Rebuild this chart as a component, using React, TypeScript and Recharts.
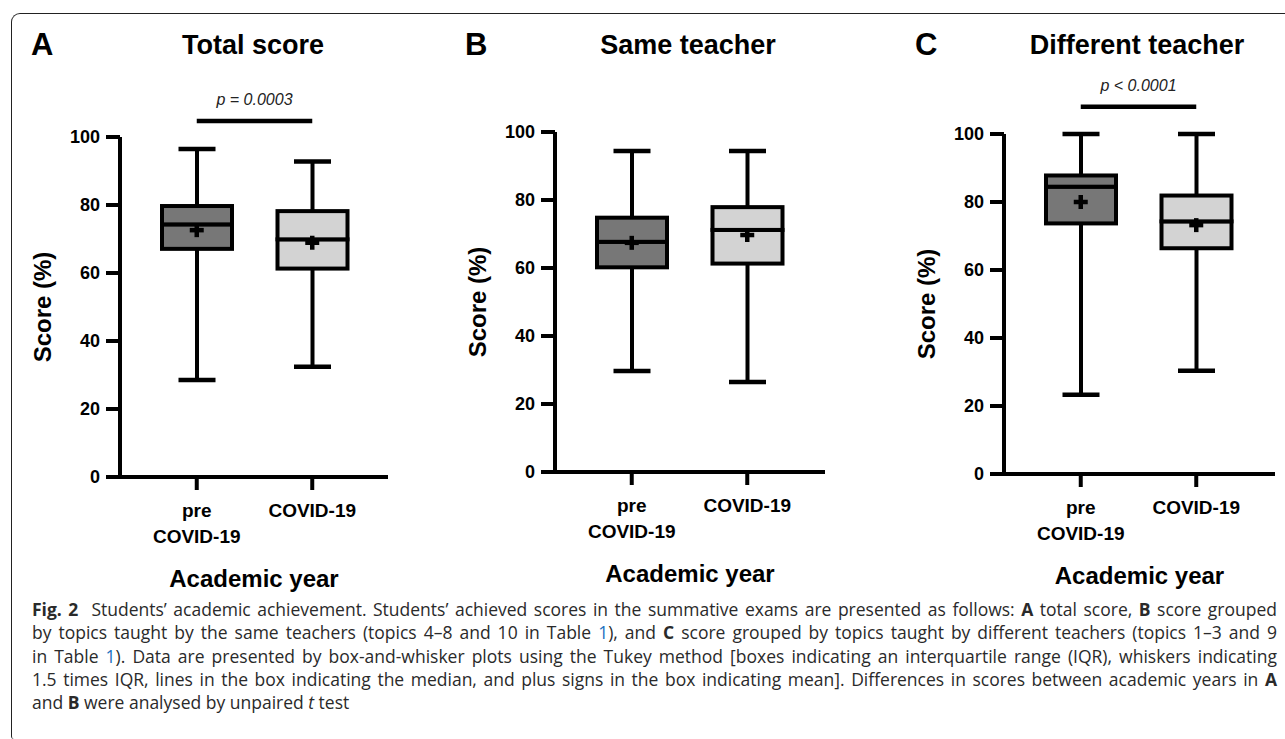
import React from "react";
import { ComposedChart, Bar, Scatter, XAxis, YAxis, ReferenceLine, Label } from "recharts";

const GROUPS = ["pre COVID-19", "COVID-19"];
const Y_TICKS = [0, 20, 40, 60, 80, 100];

// A: total score
const TOTAL_MIN = [28.5, 32.4];
const TOTAL_Q1 = [67.1, 61.3];
const TOTAL_MEDIAN = [74.3, 69.9];
const TOTAL_Q3 = [79.7, 78.2];
const TOTAL_MAX = [96.5, 92.8];
const TOTAL_MEAN = [72.6, 68.9];

// B: same teacher
const SAME_MIN = [29.7, 26.5];
const SAME_Q1 = [60.2, 61.3];
const SAME_MEDIAN = [67.7, 71.2];
const SAME_Q3 = [74.8, 77.9];
const SAME_MAX = [94.4, 94.4];
const SAME_MEAN = [67.4, 69.7];

// C: different teacher
const DIFF_MIN = [23.3, 30.4];
const DIFF_Q1 = [73.7, 66.4];
const DIFF_MEDIAN = [84.5, 74.3];
const DIFF_Q3 = [87.8, 81.9];
const DIFF_MAX = [100, 100];
const DIFF_MEAN = [80.0, 73.2];

const FILLS = ["#777777", "#d3d3d3"];
const FONT = '"Liberation Sans", Arial, Helvetica, sans-serif';

function toRows(min: number[], q1: number[], med: number[], q3: number[], max: number[], mean: number[]) {
  return GROUPS.map((name, i) => ({
    name,
    base: min[i],
    lowWhisker: q1[i] - min[i],
    lowBox: med[i] - q1[i],
    highBox: q3[i] - med[i],
    highWhisker: max[i] - q3[i],
    mean: mean[i],
  }));
}

const whisker = (side: "low" | "high") => (p: any) => {
  const cx = p.x + p.width / 2;
  const capY = side === "low" ? p.y + p.height : p.y;
  const half = p.width / 4 + 1;
  return (
    <g>
      <line x1={cx} x2={cx} y1={p.y} y2={p.y + p.height} stroke="#000" strokeWidth={4} />
      <line x1={cx - half} x2={cx + half} y1={capY} y2={capY} stroke="#000" strokeWidth={4.5} />
    </g>
  );
};

const box = (p: any) => (
  <rect x={p.x} y={p.y} width={p.width} height={p.height} fill={FILLS[p.index]} stroke="#000" strokeWidth={4} />
);

const plus = (p: any) => (
  <g>
    <line x1={p.cx - 7} x2={p.cx + 7} y1={p.cy} y2={p.cy} stroke="#000" strokeWidth={4.5} />
    <line x1={p.cx} x2={p.cx} y1={p.cy - 7} y2={p.cy + 7} stroke="#000" strokeWidth={4.5} />
  </g>
);

const XTick = (p: any) => {
  const parts = String(p.payload.value).split(" ");
  return (
    <text textAnchor="middle" fontFamily={FONT} fontSize={19} fontWeight={700} fill="#000">
      {parts.map((t, i) => (
        <tspan key={i} x={p.x} y={p.y + 25 + i * 26}>{t}</tspan>
      ))}
    </text>
  );
};

const xLabel = (p: any) => {
  const vb = p.viewBox;
  return (
    <text x={vb.x + vb.width / 2} y={vb.y + 110} textAnchor="middle" fontFamily={FONT} fontSize={24} fontWeight={700} fill="#000">
      Academic year
    </text>
  );
};

const yLabel = (p: any) => {
  const vb = p.viewBox;
  const x = vb.x + vb.width - 69;
  const y = vb.y + vb.height / 2;
  return (
    <text x={x} y={y} transform={`rotate(-90 ${x} ${y})`} textAnchor="middle" fontFamily={FONT} fontSize={24} fontWeight={700} fill="#000">
      Score (%)
    </text>
  );
};

type PanelProps = {
  left: number;
  plotTop: number;
  plotWidth: number;
  rows: ReturnType<typeof toRows>;
  pText?: string;
  pY?: number;
};

function Panel({ left, plotTop, plotWidth, rows, pText, pY }: PanelProps) {
  const H = 600;
  return (
    <div style={{ position: "absolute", left, top: 0 }}>
      <ComposedChart width={110 + plotWidth + 10} height={H} data={rows} margin={{ top: plotTop, right: 10, bottom: 0, left: 0 }}>
        <XAxis
          dataKey="name"
          type="category"
          height={H - plotTop - 340}
          padding={{ left: 19, right: plotWidth - 19 - 231 }}
          axisLine={{ stroke: "#000", strokeWidth: 4 }}
          tickLine={{ stroke: "#000", strokeWidth: 4 }}
          tickSize={13}
          tick={<XTick />}
          interval={0}
        >
          <Label content={xLabel} />
        </XAxis>
        <YAxis
          type="number"
          domain={[0, 100]}
          ticks={Y_TICKS}
          interval={0}
          width={110}
          tickSize={14}
          tickMargin={6}
          axisLine={{ stroke: "#000", strokeWidth: 4 }}
          tickLine={{ stroke: "#000", strokeWidth: 4 }}
          tick={{ fill: "#000", fontSize: 18, fontWeight: 700, fontFamily: FONT }}
        >
          <Label content={yLabel} />
        </YAxis>
        <Bar dataKey="base" stackId="b" fill="transparent" barSize={70} isAnimationActive={false} />
        <Bar dataKey="lowWhisker" stackId="b" barSize={70} shape={whisker("low")} isAnimationActive={false} />
        <Bar dataKey="lowBox" stackId="b" barSize={70} shape={box} isAnimationActive={false} />
        <Bar dataKey="highBox" stackId="b" barSize={70} shape={box} isAnimationActive={false} />
        <Bar dataKey="highWhisker" stackId="b" barSize={70} shape={whisker("high")} isAnimationActive={false} />
        <Scatter dataKey="mean" shape={plus} isAnimationActive={false} />
        {pText && pY !== undefined && (
          <ReferenceLine
            segment={[{ x: GROUPS[0], y: pY }, { x: GROUPS[1], y: pY }]}
            stroke="#000"
            strokeWidth={4.5}
            ifOverflow="visible"
            label={{ value: pText, position: "top", offset: 16, fill: "#222", fontSize: 16, fontStyle: "italic", fontFamily: FONT }}
          />
        )}
      </ComposedChart>
    </div>
  );
}

const TITLES = [
  { letter: "A", lx: 31, title: "Total score", tx: 253 },
  { letter: "B", lx: 465, title: "Same teacher", tx: 688 },
  { letter: "C", lx: 915, title: "Different teacher", tx: 1137 },
];

const capStyle: React.CSSProperties = {
  height: 23.3,
  lineHeight: "23.3px",
  textAlign: "justify",
  textAlignLast: "justify",
  whiteSpace: "normal",
};
const link: React.CSSProperties = { color: "#1a6fc0" };

export default function App() {
  return (
    <div style={{ position: "absolute", left: 0, top: 0, width: 1285, height: 739, overflow: "hidden", background: "#fff" }}>
      <div
        style={{
          position: "absolute", left: 11, top: 13, width: 1300, height: 725,
          borderLeft: "1px solid #222", borderTop: "1px solid #222",
          borderTopLeftRadius: 9, borderBottomLeftRadius: 3,
        }}
      />
      <Panel left={10} plotTop={137} plotWidth={268} rows={toRows(TOTAL_MIN, TOTAL_Q1, TOTAL_MEDIAN, TOTAL_Q3, TOTAL_MAX, TOTAL_MEAN)} pText="p = 0.0003" pY={104.7} />
      <Panel left={445} plotTop={132} plotWidth={270} rows={toRows(SAME_MIN, SAME_Q1, SAME_MEDIAN, SAME_Q3, SAME_MAX, SAME_MEAN)} />
      <Panel left={894} plotTop={134} plotWidth={271} rows={toRows(DIFF_MIN, DIFF_Q1, DIFF_MEDIAN, DIFF_Q3, DIFF_MAX, DIFF_MEAN)} pText="p < 0.0001" pY={108} />
      <svg width={1285} height={80} style={{ position: "absolute", left: 0, top: 0 }}>
        {TITLES.map((t) => (
          <g key={t.letter} fontFamily={FONT} fontWeight={700} fill="#000">
            <text x={t.lx} y={55} fontSize={31}>{t.letter}</text>
            <text x={t.tx} y={54} fontSize={27} textAnchor="middle">{t.title}</text>
          </g>
        ))}
      </svg>
      <div style={{ position: "absolute", left: 32, top: 598, width: 1245, fontFamily: "'Open Sans', 'Noto Sans', sans-serif", fontSize: 17.5, color: "#2a2a2a" }}>
        <div style={capStyle}>
          <b>Fig. 2</b>&nbsp; Students’ academic achievement. Students’ achieved scores in the summative exams are presented as follows: <b>A</b> total score, <b>B</b> score grouped
        </div>
        <div style={capStyle}>
          by topics taught by the same teachers (topics 4–8 and 10 in Table <span style={link}>1</span>), and <b>C</b> score grouped by topics taught by different teachers (topics 1–3 and 9
        </div>
        <div style={capStyle}>
          in Table <span style={link}>1</span>). Data are presented by box-and-whisker plots using the Tukey method [boxes indicating an interquartile range (IQR), whiskers indicating
        </div>
        <div style={capStyle}>
          1.5 times IQR, lines in the box indicating the median, and plus signs in the box indicating mean]. Differences in scores between academic years in <b>A</b>
        </div>
        <div style={{ ...capStyle, textAlign: "left", textAlignLast: "left" }}>
          and <b>B</b> were analysed by unpaired <i>t</i> test
        </div>
      </div>
    </div>
  );
}
